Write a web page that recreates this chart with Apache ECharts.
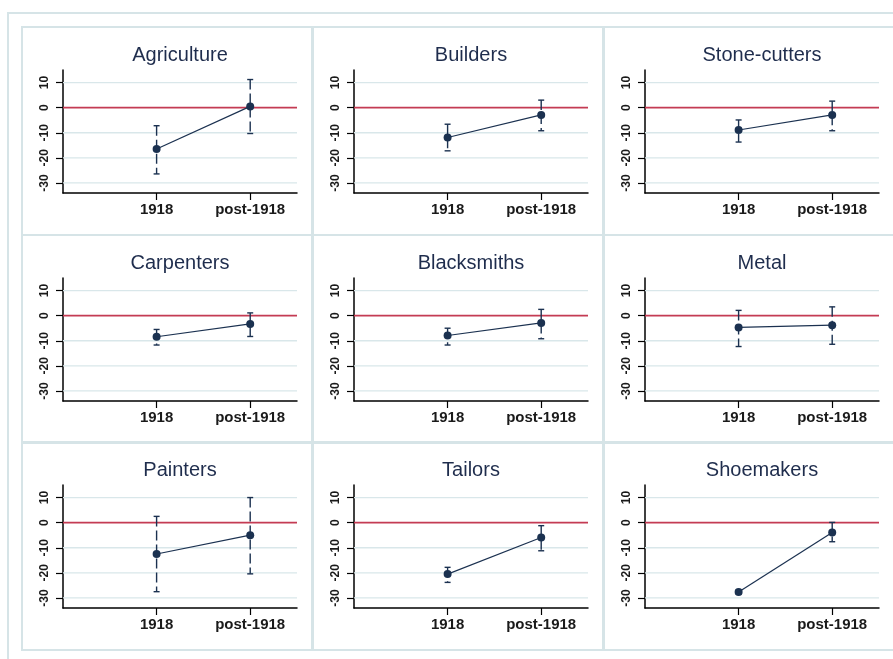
<!DOCTYPE html>
<html><head><meta charset="utf-8">
<script src="https://cdn.jsdelivr.net/npm/echarts@6/dist/echarts.min.js"></script>
<style>html,body{margin:0;padding:0;background:#fff}#c{width:893px;height:659px}</style>
</head><body><div id="c"></div>
<script>
// ---- data ----
const sectors = ['Agriculture','Builders','Stone-cutters','Carpenters','Blacksmiths','Metal','Painters','Tailors','Shoemakers'];
const periods = ['1918','post-1918'];
const yTicks = [-30,-20,-10,0,10];
const estimate1918 = [-16.5, -11.9, -8.9, -8.4, -7.9, -4.7, -12.5, -20.5, -27.6];
const lower1918    = [-26.4, -17.2, -13.7, -11.7, -11.7, -12.3, -27.5, -23.8, -28.4];
const upper1918    = [-7.2, -6.6, -4.9, -5.5, -5.0, 2.1, 2.5, -17.8, -26.9];
const estimatePost = [0.5, -2.9, -2.9, -3.3, -2.9, -3.8, -5.0, -5.9, -3.9];
const lowerPost    = [-10.3, -9.2, -9.2, -8.3, -9.2, -11.4, -20.4, -11.2, -7.6];
const upperPost    = [11.2, 3.0, 2.6, 1.1, 2.5, 3.5, 10.0, -1.2, 0.1];

// ---- layout / style ----
const X_MIN = 0, X_MAX = 2.5, Y_MIN = -34, Y_MAX = 15;
const colX = [22, 313, 604], rowY = [27, 235, 442];
const PW = 290, PH = 208;
const GL = 41, GT = 43, GW = 234, GH = 123;
const NAVY = '#1b3150', FRAME = '#d6e4e7', GRIDC = '#d9e7ea', RED = '#c43b53';
const FONT = 'Liberation Sans, Arial, sans-serif';
const xPos = periods.map((p, k) => k + 1);

const chart = echarts.init(document.getElementById('c'), null, {renderer: 'canvas'});
const grid = [], xAxis = [], yAxis = [], series = [];
const graphic = [{
  type: 'rect', z: 0, silent: true,
  shape: {x: 8, y: 13, width: 950, height: 700},
  style: {fill: 'none', stroke: FRAME, lineWidth: 2}
}];

sectors.forEach((name, i) => {
  const col = i % 3, row = Math.floor(i / 3);
  const px = colX[col], py = rowY[row];
  const gx = px + GL, gy = py + GT;
  graphic.push({
    type: 'rect', z: 0, silent: true,
    shape: {x: px, y: py, width: PW, height: PH},
    style: {fill: 'none', stroke: FRAME, lineWidth: 2}
  });
  graphic.push({
    type: 'text', z: 5, silent: true,
    x: gx + GW / 2, y: gy - 15,
    style: {text: name, font: '20px ' + FONT, fill: '#1f2d4d',
      align: 'center', verticalAlign: 'middle', textAlign: 'center', textVerticalAlign: 'middle'}
  });
  grid.push({left: gx, top: gy, width: GW, height: GH, containLabel: false});
  xAxis.push({
    type: 'value', gridIndex: i, min: X_MIN, max: X_MAX,
    axisLine: {show: true, onZero: false, lineStyle: {color: '#000', width: 1.5}},
    axisTick: {show: true, customValues: xPos, length: 7, lineStyle: {color: '#000', width: 1.2}},
    axisLabel: {show: true, customValues: xPos, margin: 9,
      formatter: v => periods[Math.round(v) - 1] || '',
      fontSize: 15, fontWeight: 'bold', color: '#1a1a1a', fontFamily: FONT},
    splitLine: {show: false}
  });
  yAxis.push({
    type: 'value', gridIndex: i, min: Y_MIN, max: Y_MAX,
    axisLine: {show: true, onZero: false, lineStyle: {color: '#000', width: 1.5}},
    axisTick: {show: true, customValues: yTicks, length: 7, lineStyle: {color: '#000', width: 1.2}},
    axisLabel: {show: true, customValues: yTicks, rotate: 90, margin: 12,
      fontSize: 12, fontWeight: 'bold', color: '#1a1a1a', fontFamily: FONT},
    splitLine: {show: false}
  });
  // grid lines and zero reference line
  series.push({
    type: 'custom', xAxisIndex: i, yAxisIndex: i, z: 1, silent: true,
    data: yTicks.map(v => [X_MIN, v]),
    encode: {x: 0, y: 1},
    renderItem: (params, api) => {
      const v = api.value(1);
      const a = api.coord([X_MIN, v]), b = api.coord([X_MAX, v]);
      return {type: 'line', z2: v === 0 ? 2 : 1,
        shape: {x1: a[0], y1: a[1], x2: b[0], y2: b[1]},
        style: {stroke: v === 0 ? RED : GRIDC, lineWidth: v === 0 ? 1.6 : 1.3}};
    }
  });
  // confidence intervals
  series.push({
    type: 'custom', xAxisIndex: i, yAxisIndex: i, z: 3, silent: true,
    data: [[xPos[0], lower1918[i], upper1918[i]], [xPos[1], lowerPost[i], upperPost[i]]],
    encode: {x: 0, y: [1, 2]},
    renderItem: (params, api) => {
      const x = api.value(0);
      const pLo = api.coord([x, api.value(1)]), pHi = api.coord([x, api.value(2)]);
      const w = 3;
      return {type: 'group', children: [
        {type: 'line', shape: {x1: pHi[0], y1: pHi[1], x2: pLo[0], y2: pLo[1]},
          style: {stroke: NAVY, lineWidth: 1.4, lineDash: [10, 4]}},
        {type: 'line', shape: {x1: pHi[0] - w, y1: pHi[1], x2: pHi[0] + w, y2: pHi[1]},
          style: {stroke: NAVY, lineWidth: 1.4}},
        {type: 'line', shape: {x1: pLo[0] - w, y1: pLo[1], x2: pLo[0] + w, y2: pLo[1]},
          style: {stroke: NAVY, lineWidth: 1.4}}
      ]};
    }
  });
  // point estimates
  series.push({
    type: 'line', xAxisIndex: i, yAxisIndex: i, z: 4, silent: true,
    data: [[xPos[0], estimate1918[i]], [xPos[1], estimatePost[i]]],
    symbol: 'circle', symbolSize: 8, showSymbol: true,
    lineStyle: {color: NAVY, width: 1.2},
    itemStyle: {color: NAVY},
    animation: false
  });
});

chart.setOption({
  backgroundColor: '#ffffff',
  animation: false,
  grid, xAxis, yAxis, series, graphic
});
</script>
</body></html>
